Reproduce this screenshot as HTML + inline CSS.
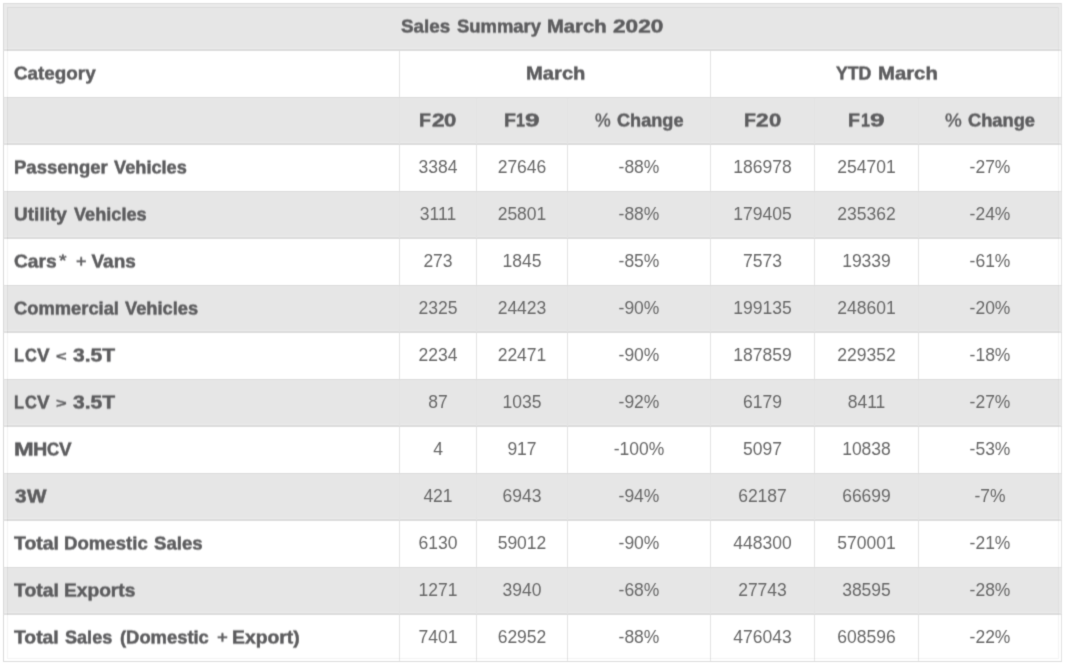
<!DOCTYPE html>
<html>
<head>
<meta charset="utf-8">
<title>Sales Summary March 2020</title>
<style>
html,body{margin:0;padding:0;background:#fff;}
body{width:1065px;height:664px;overflow:hidden;position:relative;filter:url(#soft);font-family:"Liberation Sans",sans-serif;}
table{position:absolute;left:3px;top:3px;border-collapse:collapse;table-layout:fixed;width:1058px;}
td,th{height:46px;padding:0;border:1px solid #dcdcdc;border-left-color:#e3e3e3;border-right-color:#e3e3e3;box-sizing:border-box;text-align:center;vertical-align:middle;
  font-size:17.5px;color:#686868;font-weight:normal;white-space:nowrap;overflow:hidden;}
tr{height:47px;}
td{padding-bottom:2px;}
tr.g td,tr.g th{background:#e6e6e6;box-shadow:inset 0 -1px 0 #dcdcdc,inset 0 -2px 0 #ebebeb;}
tr th:first-child{border-left-color:#d9d9d9;}
tr td:last-child,tr th:last-child{border-right-color:#e2e2e2;}
th{position:relative;font-size:19px;color:#5c5c5e;text-align:left;}
th span{filter:url(#up);position:absolute;top:0;height:46px;line-height:46px;display:block;transform-origin:left center;white-space:nowrap;}
th span.b{font-weight:bold;-webkit-text-stroke:0.5px #5c5c5e;}
th span.n{font-weight:normal;font-size:16px;color:#5e5e60;-webkit-text-stroke:0.5px #5e5e60;}
th span.p{font-weight:normal;font-size:19px;color:#5e5e60;-webkit-text-stroke:0.45px #5e5e60;}
th span.lt{font-weight:bold;font-size:13.5px;color:#5e5e60;-webkit-text-stroke:0.3px #5e5e60;top:1px;}
.ring{position:absolute;left:4px;top:4px;width:1057px;height:657px;box-sizing:border-box;border:3px solid rgba(255,255,255,0.16);pointer-events:none;}
.ring2{position:absolute;left:7px;top:7px;width:1052px;height:652px;box-sizing:border-box;border:1px solid rgba(0,0,0,0.045);pointer-events:none;}
</style>
</head>
<body>
<table>
<colgroup><col style="width:396px"><col style="width:77px"><col style="width:91px"><col style="width:143px"><col style="width:104px"><col style="width:104px"><col style="width:143px"></colgroup>
<tr class="g"><th colspan="7"><span class="b" style="left:396.6px;transform:scaleX(0.991)">Sales</span> <span class="b" style="left:452.8px;transform:scaleX(0.969)">Summary</span> <span class="b" style="left:543.1px;transform:scaleX(1.065)">March</span> <span class="b" style="left:609.1px;transform:scaleX(1.189)">2020</span></th></tr>
<tr><th><span class="b" style="left:10.2px;transform:scaleX(0.991)">Category</span></th><th colspan="3"><span class="b" style="left:126.1px;transform:scaleX(1.062)">March</span></th><th colspan="3"><span class="b" style="left:124.9px;transform:scaleX(0.931)">YTD</span> <span class="b" style="left:167.0px;transform:scaleX(1.069)">March</span></th></tr>
<tr class="g"><th></th><th><span class="b" style="left:19.3px;transform:scaleX(1.027)">F</span><span class="b" style="left:31.7px;transform:scaleX(1.190)">2</span><span class="b" style="left:44.3px;transform:scaleX(1.158)">0</span></th><th><span class="b" style="left:26.5px;transform:scaleX(1.027)">F</span><span class="b" style="left:39.2px;transform:scaleX(0.843)">1</span><span class="b" style="left:48.4px;transform:scaleX(1.374)">9</span></th><th><span class="p" style="left:26.5px;transform:scaleX(0.931)">%</span> <span class="b" style="left:48.9px;transform:scaleX(0.954)">Change</span></th><th><span class="b" style="left:32.8px;transform:scaleX(1.027)">F</span><span class="b" style="left:45.2px;transform:scaleX(1.190)">2</span><span class="b" style="left:57.8px;transform:scaleX(1.158)">0</span></th><th><span class="b" style="left:33.0px;transform:scaleX(1.027)">F</span><span class="b" style="left:45.7px;transform:scaleX(0.843)">1</span><span class="b" style="left:54.9px;transform:scaleX(1.374)">9</span></th><th><span class="p" style="left:26.4px;transform:scaleX(0.994)">%</span> <span class="b" style="left:49.3px;transform:scaleX(0.962)">Change</span></th></tr>
<tr><th><span class="b" style="left:10.0px;transform:scaleX(0.975)">Passenger</span> <span class="b" style="left:110.0px;transform:scaleX(0.958)">Vehicles</span></th><td>3384</td><td>27646</td><td>-88%</td><td>186978</td><td>254701</td><td>-27%</td></tr>
<tr class="g"><th><span class="b" style="left:10.1px;transform:scaleX(1.003)">Utility</span> <span class="b" style="left:69.9px;transform:scaleX(0.955)">Vehicles</span></th><td>3111</td><td>25801</td><td>-88%</td><td>179405</td><td>235362</td><td>-24%</td></tr>
<tr><th><span class="b" style="left:9.6px;transform:scaleX(1.011)">Cars</span> <span class="n" style="left:54.7px;transform:scaleX(1.214)">*</span> <span class="n" style="left:71.9px;transform:scaleX(1.121)">+</span> <span class="b" style="left:87.5px;transform:scaleX(1.000)">Vans</span></th><td>273</td><td>1845</td><td>-85%</td><td>7573</td><td>19339</td><td>-61%</td></tr>
<tr class="g"><th><span class="b" style="left:9.7px;transform:scaleX(0.965)">Commercial</span> <span class="b" style="left:120.9px;transform:scaleX(0.962)">Vehicles</span></th><td>2325</td><td>24423</td><td>-90%</td><td>199135</td><td>248601</td><td>-20%</td></tr>
<tr><th><span class="b" style="left:10.1px;transform:scaleX(0.859)">L</span><span class="b" style="left:21.0px;transform:scaleX(0.862)">C</span><span class="b" style="left:32.9px;transform:scaleX(0.992)">V</span> <span class="lt" style="left:51.8px;transform:scaleX(1.351)">&lt;</span> <span class="b" style="left:69.1px;transform:scaleX(1.106)">3.5T</span></th><td>2234</td><td>22471</td><td>-90%</td><td>187859</td><td>229352</td><td>-18%</td></tr>
<tr class="g"><th><span class="b" style="left:10.1px;transform:scaleX(0.859)">L</span><span class="b" style="left:21.0px;transform:scaleX(0.862)">C</span><span class="b" style="left:32.9px;transform:scaleX(0.992)">V</span> <span class="lt" style="left:51.8px;transform:scaleX(1.351)">&gt;</span> <span class="b" style="left:69.1px;transform:scaleX(1.106)">3.5T</span></th><td>87</td><td>1035</td><td>-92%</td><td>6179</td><td>8411</td><td>-27%</td></tr>
<tr><th><span class="b" style="left:9.5px;transform:scaleX(1.244)">M</span><span class="b" style="left:28.5px;transform:scaleX(1.041)">H</span><span class="b" style="left:43.1px;transform:scaleX(0.885)">C</span><span class="b" style="left:55.1px;transform:scaleX(0.992)">V</span></th><td>4</td><td>917</td><td>-100%</td><td>5097</td><td>10838</td><td>-53%</td></tr>
<tr class="g"><th><span class="b" style="left:10.6px;transform:scaleX(1.090)">3</span><span class="b" style="left:22.5px;transform:scaleX(1.086)">W</span></th><td>421</td><td>6943</td><td>-94%</td><td>62187</td><td>66699</td><td>-7%</td></tr>
<tr><th><span class="b" style="left:10.3px;transform:scaleX(1.022)">Total</span> <span class="b" style="left:60.3px;transform:scaleX(0.979)">Domestic</span> <span class="b" style="left:149.9px;transform:scaleX(0.980)">Sales</span></th><td>6130</td><td>59012</td><td>-90%</td><td>448300</td><td>570001</td><td>-21%</td></tr>
<tr class="g"><th><span class="b" style="left:9.9px;transform:scaleX(1.020)">Total</span> <span class="b" style="left:59.9px;transform:scaleX(1.009)">Exports</span></th><td>1271</td><td>3940</td><td>-68%</td><td>27743</td><td>38595</td><td>-28%</td></tr>
<tr><th><span class="b" style="left:10.3px;transform:scaleX(1.017)">Total</span> <span class="b" style="left:60.9px;transform:scaleX(0.952)">Sales</span> <span class="b" style="left:115.8px;transform:scaleX(0.967)">(Domestic</span> <span class="n" style="left:212.8px;transform:scaleX(1.169)">+</span> <span class="b" style="left:227.8px;transform:scaleX(1.018)">Export)</span></th><td>7401</td><td>62952</td><td>-88%</td><td>476043</td><td>608596</td><td>-22%</td></tr>
</table>
<svg width="0" height="0" style="position:absolute"><defs><filter id="soft" x="0" y="0" width="100%" height="100%" color-interpolation-filters="sRGB"><feConvolveMatrix order="3" kernelMatrix="0.0196 0.1008 0.0196 0.1008 0.5184 0.1008 0.0196 0.1008 0.0196" edgeMode="duplicate" preserveAlpha="true"/></filter><filter id="up" x="-5%" y="-20%" width="110%" height="140%" color-interpolation-filters="sRGB"><feConvolveMatrix order="1 3" kernelMatrix="0.45 0.55 0" edgeMode="none" preserveAlpha="false"/></filter></defs></svg>
<div class="ring"></div><div class="ring2"></div>
</body>
</html>
